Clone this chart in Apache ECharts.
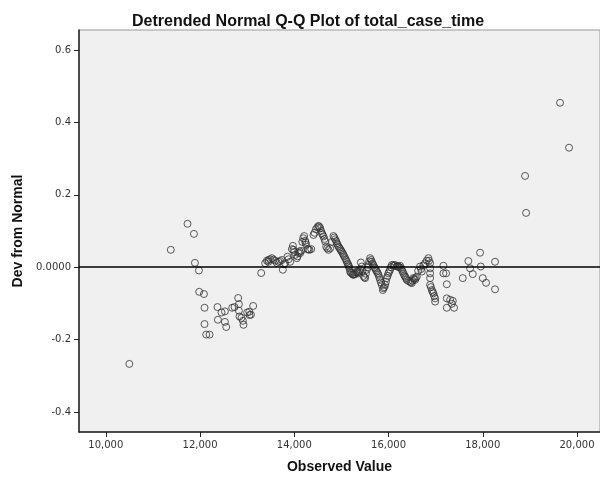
<!DOCTYPE html>
<html>
<head>
<meta charset="utf-8">
<script src="https://cdn.jsdelivr.net/npm/echarts@6/dist/echarts.min.js"></script>
<style>
  html, body { margin: 0; padding: 0; background: #fff; }
  #chart { width: 600px; height: 480px; }
</style>
</head>
<body>
<div id="chart"></div>
<script>
const observed = [
  10500, 11380, 11735, 11871, 11892, 11977, 11983, 12083, 12096, 12096,
  12132, 12202, 12371, 12380, 12456, 12528, 12528, 12556, 12683, 12732,
  12810, 12825, 12825, 12838, 12880, 12910, 12923, 13001, 13044, 13050,
  13080, 13128, 13298, 13383, 13453, 13453, 13525, 13595, 13665, 13737,
  13758, 13807, 13856, 13913, 13971, 13983, 14019, 14055, 14089, 14125,
  14210, 14231, 14253, 14280, 14323, 14408, 14513, 14550, 14586, 14620,
  14656, 14677, 14726, 14762, 14832, 14868, 14904, 14938, 14974, 15010,
  15044, 15080, 15116, 15150, 15171, 15186, 15222, 15256, 15292, 15328,
  15362, 15398, 15413, 15434, 15468, 15504, 15540, 15574, 15610, 15646,
  15680, 15716, 15752, 15786, 15822, 15858, 15879, 15892, 15928, 15964,
  15998, 16034, 16070, 16104, 16140, 16176, 16210, 16246, 16282, 16316,
  16352, 16388, 16458, 16494, 16528, 16564, 16600, 16670, 16707, 16777,
  16846, 16883, 16883, 16883, 16883, 16883, 16919, 16953, 16989, 16989,
  17165, 17165, 17222, 17237, 17237, 17307, 17364, 17343, 17237, 17391,
  17576, 17695, 17731, 17788, 17943, 17958, 18000, 18070, 18261, 18261,
  18898, 18919, 19640, 19831,
  // overlapping points inside the dense band
  13420, 13490, 13560, 13630, 13700, 13780, 13880, 13950, 14000, 14070,
  14110, 14150, 14170, 14190, 14240, 14300, 14360, 14430, 14460, 14490,
  14530, 14570, 14600, 14640, 14700, 14800, 14850, 14890, 14920, 14955,
  14990, 15030, 15060, 15100, 15135, 15160, 15200, 15240, 15270, 15310,
  15345, 15380, 15450, 15490, 15520, 15560, 15590, 15630, 15660, 15700,
  15735, 15770, 15805, 15840, 15910, 15945, 15980, 16015, 16050, 16120,
  16190, 16230, 16265, 16300, 16335, 16370, 16420, 16475, 16510, 16545,
  16580, 16630, 16690, 16740, 16810, 16860, 16900, 16935, 16970
];
const devFromNormal = [
  -0.267, 0.048, 0.120, 0.092, 0.012, -0.009, -0.068, -0.074, -0.112, -0.157,
  -0.186, -0.186, -0.110, -0.145, -0.125, -0.122, -0.151, -0.165, -0.112, -0.110,
  -0.085, -0.102, -0.120, -0.136, -0.140, -0.148, -0.159, -0.125, -0.123, -0.132,
  -0.131, -0.107, -0.016, 0.011, 0.020, 0.015, 0.025, 0.018, 0.015, 0.020,
  -0.007, 0.011, 0.029, 0.015, 0.059, 0.048, 0.034, 0.025, 0.039, 0.039,
  0.086, 0.073, 0.062, 0.050, 0.048, 0.089, 0.114, 0.108, 0.094, 0.085,
  0.071, 0.057, 0.048, 0.052, 0.086, 0.077, 0.066, 0.057, 0.050, 0.043,
  0.034, 0.025, 0.015, 0.006, -0.003, -0.012, -0.017, -0.021, -0.019, -0.012,
  -0.017, -0.007, 0.013, 0.002, -0.024, -0.030, -0.007, 0.006, 0.025, 0.015,
  0.006, -0.003, -0.012, -0.021, -0.035, -0.049, -0.063, -0.058, -0.049, -0.030,
  -0.017, -0.007, 0.006, 0.006, 0.006, 0.002, 0.002, 0.004, -0.007, -0.017,
  -0.026, -0.035, -0.040, -0.044, -0.030, -0.035, -0.026, 0.002, -0.012, 0.011,
  0.025, 0.011, -0.003, -0.017, -0.030, -0.049, -0.063, -0.072, -0.086, -0.095,
  0.004, -0.017, -0.017, -0.047, -0.086, -0.090, -0.093, -0.101, -0.112, -0.112,
  -0.030, 0.017, -0.003, -0.019, 0.040, 0.002, -0.030, -0.043, 0.015, -0.061,
  0.252, 0.150, 0.454, 0.330,
  0.018, 0.022, 0.021, 0.012, 0.017, 0.008, 0.022, 0.050, 0.042, 0.030,
  0.044, 0.045, 0.070, 0.080, 0.068, 0.049, 0.050, 0.095, 0.105, 0.110,
  0.112, 0.100, 0.090, 0.078, 0.052, 0.070, 0.082, 0.072, 0.062, 0.054,
  0.046, 0.038, 0.030, 0.020, 0.010, 0.002, -0.015, -0.020, -0.020, -0.015,
  -0.014, -0.012, -0.010, -0.028, -0.018, 0.000, 0.016, 0.020, 0.010, 0.000,
  -0.008, -0.016, -0.028, -0.042, -0.055, -0.040, -0.024, -0.012, 0.000, 0.004,
  0.003, 0.000, -0.002, -0.012, -0.022, -0.030, -0.038, -0.042, -0.037, -0.032,
  -0.030, -0.010, -0.005, 0.005, 0.018, 0.018, -0.055, -0.068, -0.080
];
const xTicks = [10000, 12000, 14000, 16000, 18000, 20000];
const yTicks = [-0.4, -0.2, 0, 0.2, 0.4, 0.6];

const chart = echarts.init(document.getElementById('chart'));

const nameFont = 'Liberation Sans';
const tickFont = 'DejaVu Sans';

const option = {
  animation: false,
  backgroundColor: '#fff',
  title: {
    text: 'Detrended Normal Q-Q Plot of total_case_time',
    left: 127,
    top: 9,
    textStyle: { fontFamily: nameFont, fontSize: 16, fontWeight: 'bold', color: '#111' }
  },
  grid: {
    left: 79,
    right: 0,
    top: 30,
    bottom: 48,
    show: true,
    backgroundColor: '#f0f0f0',
    borderColor: '#999',
    borderWidth: 1,
    outerBoundsMode: 'none'
  },
  xAxis: {
    type: 'value',
    min: 9432,
    max: 20488,
    name: 'Observed Value',
    nameLocation: 'middle',
    nameGap: 28,
    nameTextStyle: { fontFamily: nameFont, fontSize: 14, fontWeight: 'bold', color: '#111' },
    axisLine: { show: true, onZero: false, lineStyle: { color: '#222', width: 1.5 } },
    axisTick: { show: true, length: 5, customValues: xTicks, lineStyle: { color: '#222' } },
    axisLabel: {
      customValues: xTicks,
      fontFamily: tickFont,
      fontSize: 10,
      color: '#333',
      margin: 8,
      formatter: v => v.toLocaleString('en-US')
    },
    splitLine: { show: false }
  },
  yAxis: {
    type: 'value',
    min: -0.455,
    max: 0.655,
    name: 'Dev from Normal',
    nameLocation: 'middle',
    nameGap: 52,
    nameTextStyle: { fontFamily: nameFont, fontSize: 14, fontWeight: 'bold', color: '#111' },
    axisLine: { show: true, onZero: false, lineStyle: { color: '#222', width: 1.5 } },
    axisTick: { show: true, length: 5, customValues: yTicks, lineStyle: { color: '#222' } },
    axisLabel: {
      customValues: yTicks,
      fontFamily: tickFont,
      fontSize: 10,
      color: '#333',
      margin: 8,
      formatter: v => (Math.abs(v) < 1e-9 ? '0.0000' : v.toFixed(1))
    },
    splitLine: { show: false }
  },
  series: [
    {
      type: 'scatter',
      data: observed.map((x, i) => [x, devFromNormal[i]]),
      symbol: 'circle',
      symbolSize: 7,
      itemStyle: { color: 'rgba(0,0,0,0)', borderColor: '#333', borderWidth: 1 },
      markLine: {
        silent: true,
        symbol: 'none',
        label: { show: false },
        lineStyle: { color: '#000', width: 1.5, type: 'solid' },
        data: [{ yAxis: 0 }]
      },
      z: 3
    }
  ]
};

chart.setOption(option);
</script>
</body>
</html>
